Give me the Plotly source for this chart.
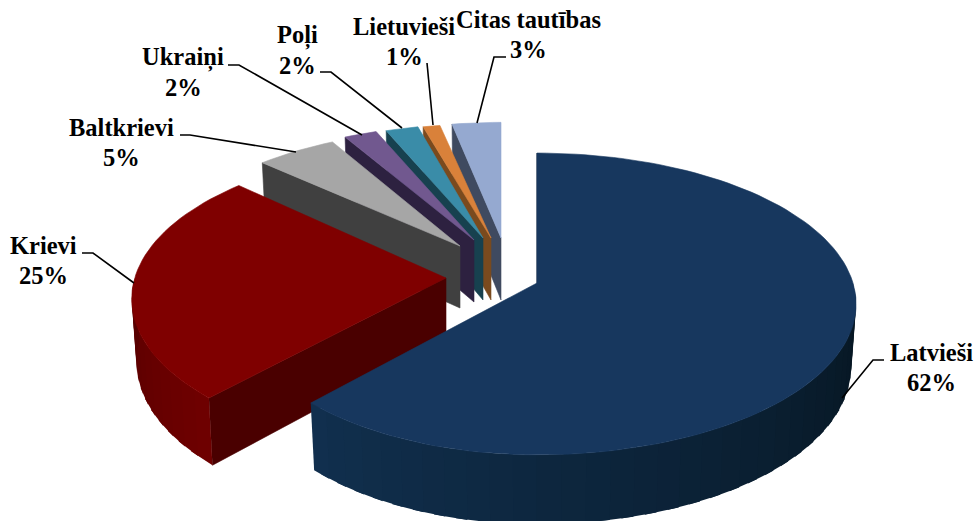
import math
import plotly.graph_objects as go

# ---- data (drawn clockwise from 12 o'clock) ----
categories = ["Latvieši", "Krievi", "Baltkrievi", "Ukraiņi", "Poļi", "Lietuvieši", "Citas tautības"]
values = [62, 25, 5, 2, 2, 1, 3]

# ---- styles ----
top_colors = ["#17375E", "#7F0000", "#A6A6A6", "#71588F", "#3A8CA8", "#D9813A", "#95A9D0"]
side_colors = ["#0D2238", "#4A0000", "#404040", "#2D2140", "#17414F", "#7A4A1E", "#3F4A60"]
wall_near = ["#11304F", "#6E0000", "#505050", "#3A2B52", "#1F5364", "#8A5220", "#4E5B78"]
wall_far = ["#061520", "#560000", "#404040", "#2D2140", "#17414F", "#7A4A1E", "#3F4A60"]

# ---- pie geometry (layout only: pixel space of the 976x521 page) ----
apex_x = [537, 446, 460, 474, 483, 491, 501]
apex_y = [283, 278, 246, 240, 238, 238, 238]
rad_x = [1, 0.985, 0.94, 0.95, 0.94, 0.98, 0.94]
rad_y = [1, 1, 0.90, 0.89, 0.88, 0.88, 0.89]
left_squeeze = [0.94, 1, 1, 1, 1, 1, 1]
RX, RY, K, H, BOTTOM = 316, 148, 0.139, 62, 0.985


def mix(a, b, t):
    ca = [int(a[i:i + 2], 16) for i in (1, 3, 5)]
    cb = [int(b[i:i + 2], 16) for i in (1, 3, 5)]
    return "rgb(%d,%d,%d)" % tuple(round(p + (q - p) * t) for p, q in zip(ca, cb))


def project(i, deg, low=False):
    a = math.radians(deg)
    X, Y = math.sin(a), -math.cos(a)
    s = 1 / (1 - K * Y)
    f = BOTTOM if low else 1
    sq = left_squeeze[i] if X < 0 else 1
    return (apex_x[i] + RX * rad_x[i] * sq * X * s * f,
            apex_y[i] + (RY * rad_y[i] * Y * f + (H if low else 0)) * s)


def steps(a0, a1, size=2.0):
    n = max(2, int(math.ceil((a1 - a0) / size)))
    return [a0 + (a1 - a0) * j / n for j in range(n + 1)]


fig = go.Figure()


def poly(points, color, width=0.6):
    xs = [p[0] for p in points] + [points[0][0]]
    ys = [p[1] for p in points] + [points[0][1]]
    fig.add_trace(go.Scatter(x=xs, y=ys, mode="lines", fill="toself", fillcolor=color,
                             line=dict(color=color, width=width), hoverinfo="skip", showlegend=False))


total = sum(values)
edges = [0.0]
for v in values:
    edges.append(edges[-1] + 360 * v / total)

# painter's order: back slices first, large front slices last
for i in [6, 5, 4, 3, 2, 1, 0]:
    a0, a1 = edges[i], edges[i + 1]
    c = (apex_x[i], apex_y[i])
    cl = (apex_x[i], apex_y[i] + H)
    # radial wall on the start edge
    poly([c, project(i, a0), project(i, a0, low=True), cl], side_colors[i])
    # curved outer wall: only the part that faces the viewer
    lo, hi = max(a0, 90.0), min(a1, 270.0)
    if hi > lo:
        ang = steps(lo, hi, 4.0)
        for p, q in zip(ang[:-1], ang[1:]):
            t = (p - lo) / (hi - lo)
            if i == 0:
                t = 1 - t
            # each band runs on under the next one, so no seam shows
            q2 = min(q + 2.0, hi)
            poly([project(i, p), project(i, q2), project(i, q2, low=True), project(i, p, low=True)],
                 mix(wall_near[i], wall_far[i], t), width=0)
    # top face
    poly([c] + [project(i, a) for a in steps(a0, a1)], top_colors[i])

# ---- labels and leader lines (layout only) ----
label_pos = [(931, 367), (43, 260), (121, 142), (183, 72), (297, 50), (404, 41), (528, 34)]
LINE_GAP = 15
leaders = [
    [(884, 360), (873, 360), (842, 398)],
    [(82, 253), (93, 253), (134, 283)],
    [(180, 135), (190, 135), (296, 152)],
    [(228, 65), (239, 65), (362, 135)],
    [(320, 72), (331, 72), (402, 128)],
    [(427, 63), (433, 125)],
    [(506, 57), (494, 57), (477, 123)],
]
for path in leaders:
    fig.add_trace(go.Scatter(x=[p[0] for p in path], y=[p[1] for p in path], mode="lines",
                             line=dict(color="#000000", width=1.6), hoverinfo="skip", showlegend=False))

label_font = dict(family="Liberation Serif", size=24.5, color="#000000")
for name, v, (lx, ly) in zip(categories, values, label_pos):
    fig.add_annotation(x=lx, y=ly - LINE_GAP, xref="x", yref="y", showarrow=False,
                       text="<b>%s</b>" % name, font=label_font)
    fig.add_annotation(x=lx, y=ly + LINE_GAP, xref="x", yref="y", showarrow=False,
                       text="<b>%d%%</b>" % round(100 * v / total), font=label_font)

fig.update_layout(
    width=976, height=521, margin=dict(l=0, r=0, t=0, b=0),
    paper_bgcolor="#FFFFFF", plot_bgcolor="#FFFFFF", showlegend=False,
    xaxis=dict(range=[0, 976], visible=False, fixedrange=True),
    yaxis=dict(range=[521, 0], visible=False, fixedrange=True),
)
fig.write_html("out.html", config={"displayModeBar": False},
               post_script="document.body.style.margin='0';document.body.style.overflow='hidden';")
